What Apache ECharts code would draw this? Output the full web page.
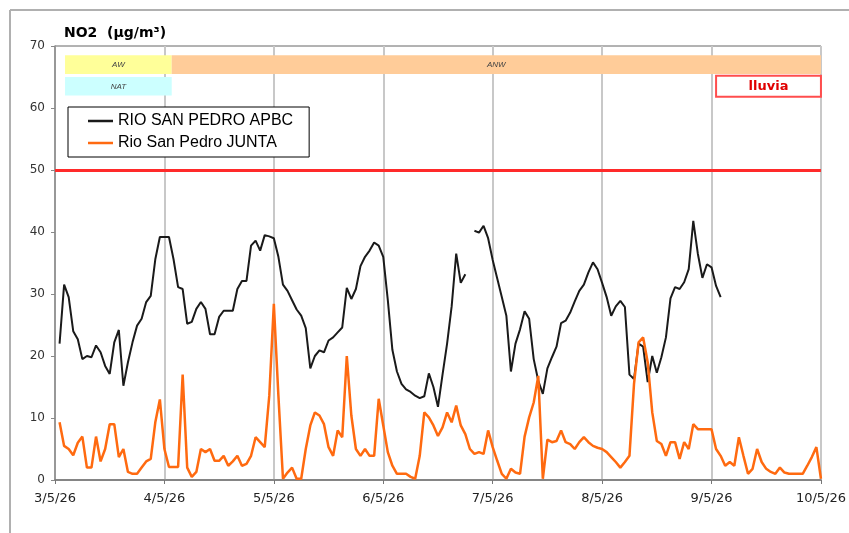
<!DOCTYPE html>
<html>
<head>
<meta charset="utf-8">
<script src="https://cdn.jsdelivr.net/npm/echarts@6/dist/echarts.min.js"></script>
<style>
html,body{margin:0;padding:0;background:#fff;}
#chart{width:849px;height:533px;}
</style>
</head>
<body>
<div id="chart"></div>
<script>
// x tick labels (one per day, every 24 hours)
const xLabels = ['3/5/26','4/5/26','5/5/26','6/5/26','7/5/26','8/5/26','9/5/26','10/5/26'];
const seriesNames = ['RIO SAN PEDRO APBC','Rio San Pedro JUNTA'];
const limitValue = 50;

// hourly values, index = hour since 3/5/26 00:00
const apbc = [null,
 22,31.5,29.5,24,22.7,19.5,20,19.8,21.7,20.6,
 18.4,17.1,22.2,24.2,15.2,19,22.2,24.9,26,28.7,
 29.7,35.6,39.2,39.2,39.2,35.6,31.1,30.8,25.2,25.5,
 27.6,28.7,27.6,23.5,23.5,26.3,27.3,27.3,27.3,30.8,
 32.1,32.1,37.8,38.6,37,39.5,39.3,39,36,31.5,
 30.5,29,27.5,26.5,24.5,18,20,20.9,20.6,22.5,
 23,23.8,24.6,31,29.2,30.8,34.5,36,37,38.3,
 37.8,36,29,21,17.5,15.5,14.6,14.2,13.6,13.2,
 13.5,17.2,15,11.8,17,22,28,36.5,31.8,33.2,
 null,40.2,39.9,41,39,35.5,32.5,29.5,26.5,17.5,
 22,24.3,27.2,26,19.5,16,13.9,18,19.8,21.5,
 25.3,25.7,27,28.8,30.5,31.5,33.5,35.1,34,31.8,
 29.5,26.5,28,28.9,27.9,17,16.3,22,21.5,15.8,
 20,17.3,19.8,23,29.3,31.1,30.8,31.9,34,41.8,
 36.5,32.6,34.8,34.3,31.3,29.5,
 null,null,null,null,null,null,null,null,null,null,null,
 null,null,null,null,null,null,null,null,null,null,null];

const junta = [null,
 9.3,5.5,5,4,6,7,2,2,7,3,
 5,9,9,3.7,5,1.3,1,1,2,3,
 3.4,9.3,13,5,2.1,2.1,2.1,17,2,0.5,
 1.3,5,4.5,5,3.1,3.1,3.9,2.3,3,3.9,
 2.3,2.6,3.9,6.9,6.1,5.3,13.6,28.4,13.6,0.2,
 1.2,2,0.2,0.2,5,8.8,10.9,10.4,9,5.3,
 3.9,8,6.9,20,10.4,5,3.9,5,3.9,3.9,
 13.1,8.8,4.5,2.3,1,1,1,0.5,0.2,3.9,
 10.9,10.1,8.8,7.1,8.5,10.9,9.3,12,8.8,7.4,
 5,4.2,4.5,4.2,8,5.3,3.1,1,0.2,1.8,
 1.2,1,7,10.1,12.5,16.8,0.2,6.5,6.1,6.3,
 8,6.1,5.8,5,6.1,6.9,6.1,5.5,5.2,5,
 4.5,3.7,2.9,2,2.9,3.9,15.5,22.2,23,19,
 10.9,6.3,5.8,3.9,6.1,6.1,3.4,6.1,5,9,
 8.2,8.2,8.2,8.2,5,3.9,2.3,2.9,2.3,6.9,
 3.9,1,1.8,5,2.9,1.8,1.3,1,2,1.2,
 1,1,1,1,2.3,3.7,5.3,0.2];

// annotation periods (hours)
const bandNames = ['AW','ANW','NAT','lluvia'];
const bandFrom  = [2.2, 25.6, 2.2, 145];
const bandTo    = [25.6, 169.3, 25.6, 168.7];

const smallLbl = {show:true, position:'inside', fontSize:8, fontStyle:'italic', color:'#444', fontFamily:'Liberation Sans'};

const chart = echarts.init(document.getElementById('chart'), null, {renderer:'canvas'});
chart.setOption({
  animation:false,
  backgroundColor:'#fff',
  title:{
    text:'NO2  (µg/m³)', left:59, top:21,
    textStyle:{fontFamily:'DejaVu Sans', fontWeight:'bold', fontSize:14, color:'#000'}
  },
  graphic:[
    {type:'line', shape:{x1:10,y1:10,x2:849,y2:10}, style:{stroke:'#b0b0b0', lineWidth:2}},
    {type:'line', shape:{x1:10,y1:10,x2:10,y2:533}, style:{stroke:'#b0b0b0', lineWidth:2}}
  ],
  legend:{
    data:[
      {name:seriesNames[0], icon:'rect', itemStyle:{color:'#1a1a1a'}},
      {name:seriesNames[1], icon:'rect', itemStyle:{color:'#ff6a10'}}
    ],
    left:68, top:107, orient:'vertical',
    backgroundColor:'#fff', borderColor:'#000', borderWidth:1,
    padding:[6,16,6,20], itemGap:6, itemWidth:25, itemHeight:2.5,
    textStyle:{fontFamily:'Liberation Sans', fontSize:16, color:'#000'}
  },
  grid:{left:55, right:27, top:46, bottom:53, show:true, borderColor:'#666', borderWidth:1},
  xAxis:{
    type:'value', min:0, max:168, interval:24,
    axisLine:{show:true, onZero:false, lineStyle:{color:'#777', width:1.5}},
    axisTick:{show:true, length:4, lineStyle:{color:'#777'}},
    axisLabel:{margin:12, fontFamily:'DejaVu Sans', fontSize:13, color:'#222',
      formatter:v => xLabels[Math.round(v/24)] || ''},
    splitLine:{show:true, lineStyle:{color:'#c8c8c8', width:2}}
  },
  yAxis:{
    type:'value', min:0, max:70, interval:10,
    axisLine:{show:true, lineStyle:{color:'#888', width:1.5}},
    axisTick:{show:true, length:4, lineStyle:{color:'#888'}},
    axisLabel:{margin:10, fontFamily:'DejaVu Sans', fontSize:12, color:'#333'},
    splitLine:{show:false}
  },
  series:[
    {
      name:'bands', type:'line', data:[], clip:false, silent:true,
      markArea:{
        silent:true,
        data:[
          [{name:bandNames[0], xAxis:bandFrom[0], yAxis:68.5, itemStyle:{color:'#ffff99'}, label:smallLbl},
           {xAxis:bandTo[0], yAxis:65.5}],
          [{name:bandNames[1], xAxis:bandFrom[1], yAxis:68.5, itemStyle:{color:'#ffcc99'}, label:smallLbl},
           {xAxis:bandTo[1], yAxis:65.5}],
          [{name:bandNames[2], xAxis:bandFrom[2], yAxis:65, itemStyle:{color:'#ccffff'}, label:smallLbl},
           {xAxis:bandTo[2], yAxis:62}],
          [{name:bandNames[3], xAxis:bandFrom[3], yAxis:65.2,
            itemStyle:{color:'#fff', borderColor:'#ff4d4d', borderWidth:2},
            label:{show:true, position:'inside', fontSize:13, fontWeight:'bold', color:'#e00000', fontFamily:'DejaVu Sans'}},
           {xAxis:bandTo[3], yAxis:61.8}]
        ]
      },
      markLine:{
        silent:true, symbol:'none', label:{show:false},
        lineStyle:{color:'#ff2a2a', width:3, type:'solid'},
        data:[{yAxis:limitValue}]
      }
    },
    {
      name:seriesNames[0], type:'line', symbol:'none', connectNulls:false,
      lineStyle:{color:'#1a1a1a', width:2}, itemStyle:{color:'#1a1a1a'},
      data:apbc.map((v,i)=>[i,v])
    },
    {
      name:seriesNames[1], type:'line', symbol:'none', connectNulls:false,
      lineStyle:{color:'#ff6a10', width:2.5}, itemStyle:{color:'#ff6a10'},
      data:junta.map((v,i)=>[i,v])
    }
  ]
});
</script>
</body>
</html>
